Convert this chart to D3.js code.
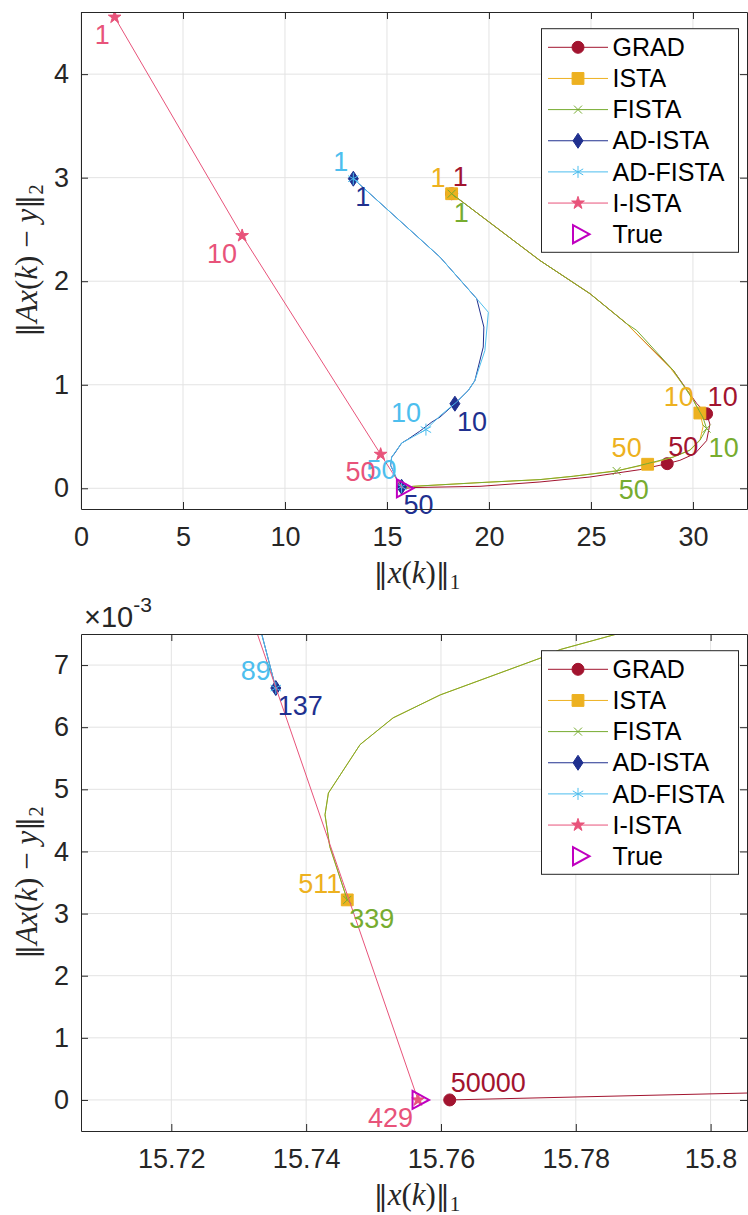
<!DOCTYPE html>
<html>
<head>
<meta charset="utf-8">
<script src="https://cdn.jsdelivr.net/npm/d3@7"></script>
<style>
body { margin: 0; background: #fff; }
svg text { font-family: "Liberation Sans", Arial, Helvetica, sans-serif; }
</style>
</head>
<body>
<svg id="chart" width="748" height="1215"></svg>
<script>
// legend order
var names = ["GRAD", "ISTA", "FISTA", "AD-ISTA", "AD-FISTA", "I-ISTA"];

// trajectories [ ||x(k)||_1 , ||Ax(k)-y||_2 ]
var gradPath = [[18.17,2.845],[22.5,2.2],[24.95,1.88],[26.75,1.59],[29.03,1.14],[30.18,0.82],[30.67,0.72],
  [30.83,0.62],[30.67,0.46],[30.1,0.335],[29.36,0.27],[28.74,0.238],[27.4,0.18],[24.95,0.109],[22.5,0.061],
  [19.56,0.019],[16.3,0.007],[15.9,0.00035],[15.7613,0]];
var istaPath = [[18.17,2.845],[22.5,2.2],[24.95,1.88],[26.7,1.6],[28.9,1.16],[29.9,0.9],[30.34,0.727],
  [30.5,0.6],[30.35,0.47],[29.85,0.37],[29.03,0.3],[27.78,0.232],[26.26,0.17],[24.13,0.116],[22.5,0.084],
  [19.56,0.055],[16.29,0.019],[15.95,0.0115],[15.8,0.0079],[15.7861,0.0075],[15.7777,0.00725],[15.7747,0.00711],
  [15.7599,0.00652],[15.7529,0.00615],[15.748,0.00572],[15.7433,0.00494],[15.7428,0.00459],[15.7435,0.00408],
  [15.7461,0.00322]];
var fistaPath = [[18.17,2.845],[22.5,2.2],[24.95,1.88],[26.75,1.59],[27.24,1.525],[29.03,1.14],[30.02,0.85],
  [30.5,0.68],[30.67,0.576],[30.34,0.463],[29.85,0.367],[29.03,0.302],[27.76,0.238],[26.26,0.167],[24.13,0.116],
  [22.5,0.084],[19.56,0.055],[16.29,0.019],[15.95,0.0115],[15.8,0.0079],[15.7861,0.0075],[15.7777,0.00725],
  [15.7747,0.00711],[15.7599,0.00652],[15.7529,0.00615],[15.748,0.00572],[15.7433,0.00494],[15.7428,0.00459],
  [15.7435,0.00408],[15.7461,0.00322]];
var adIstaPath = [[13.35,2.99],[17.6,2.233],[19.4,1.831],[19.75,1.557],[19.72,1.364],[19.31,1.04],[18.99,0.946],
  [18.33,0.817],[17.6,0.688],[17.2,0.64],[16.6,0.55],[16.0,0.47],[15.72,0.437],[15.35,0.33],[15.23,0.302],
  [15.18,0.222],[15.5,0.08],[15.715,0.015],[15.7298,0.009],[15.7355,0.00663]];
var adFistaPath = [[13.35,2.99],[17.6,2.233],[19.4,1.831],[19.97,1.7],[19.8,1.33],[19.31,1.04],[18.99,0.946],
  [18.4,0.83],[17.6,0.7],[16.91,0.567],[16.3,0.5],[15.72,0.437],[15.23,0.302],[15.18,0.222],[15.5,0.08],
  [15.715,0.015],[15.7298,0.009],[15.7355,0.00663]];
var iIstaPath = [[1.65,4.55],[7.9,2.44],[14.69,0.328],[15.7327,0.00752],[15.7566,0]];

// marked iterations [k, x, y]
var gradMarks = [[1,18.17,2.845],[10,30.67,0.72],[50,28.74,0.238],[50000,15.7613,0]];
var istaMarks = [[1,18.17,2.845],[10,30.34,0.727],[50,27.78,0.232],[511,15.7461,0.00322]];
var fistaMarks = [[1,18.17,2.845],[10,30.67,0.576],[50,26.26,0.167],[339,15.7461,0.00322]];
var adIstaMarks = [[1,13.35,2.99],[10,18.33,0.817],[50,15.715,0.015],[137,15.7355,0.00663]];
var adFistaMarks = [[1,13.35,2.99],[10,16.91,0.567],[50,15.715,0.015],[89,15.7355,0.00663]];
var iIstaMarks = [[1,1.65,4.55],[10,7.9,2.44],[50,14.69,0.328],[429,15.7566,0]];

var trueSol = [15.7566, 0];

// ticks
var topXTicks = [0, 5, 10, 15, 20, 25, 30];
var topYTicks = [0, 1, 2, 3, 4];
var botXTicks = [15.72, 15.74, 15.76, 15.78, 15.8];
var botXLabels = ["15.72", "15.74", "15.76", "15.78", "15.8"];
var botYTicks = [0, 0.001, 0.002, 0.003, 0.004, 0.005, 0.006, 0.007];
var botYLabels = ["0", "1", "2", "3", "4", "5", "6", "7"];

var paths = [gradPath, istaPath, fistaPath, adIstaPath, adFistaPath, iIstaPath];
var marks = [gradMarks, istaMarks, fistaMarks, adIstaMarks, adFistaMarks, iIstaMarks];

// look of each series, label offsets in px from the marker
var look = [
  {color: "#A2142F", marker: "circle",   anchor: "start", dx: 1,  dy: -8},
  {color: "#EDB120", marker: "square",   anchor: "end",   dx: -6, dy: -7},
  {color: "#77AC30", marker: "x",        anchor: "start", dx: 2,  dy: 28},
  {color: "#20308F", marker: "diamond",  anchor: "start", dx: 2,  dy: 27},
  {color: "#4DBEEE", marker: "asterisk", anchor: "end",   dx: -5, dy: -8},
  {color: "#E8537A", marker: "star",     anchor: "end",   dx: -5, dy: 27}
];
var trueColor = "#C000C0";

var svg = d3.select("#chart");
var left = 81, right = 747;
var axisColor = "#262626", gridColor = "#e3e3e3";

function markerPath(type) {
  if (type == "circle") return d3.symbol(d3.symbolCircle, 113)();
  if (type == "square") return d3.symbol(d3.symbolSquare, 140)();
  if (type == "star") return d3.symbol(d3.symbolStar, 50)();
  if (type == "diamond") return "M0,-7.5L5,0L0,7.5L-5,0Z";
  if (type == "x") return "M-4,-4L4,4M-4,4L4,-4";
  if (type == "asterisk") return "M0,-6L0,6M-5.2,-3L5.2,3M-5.2,3L5.2,-3";
  if (type == "tri") return "M-5.5,-9L11,0L-5.5,9Z";
}
function drawMarker(g, type, color, x, y) {
  var filled = (type == "circle" || type == "square" || type == "star" || type == "diamond");
  g.append("path")
    .attr("d", markerPath(type))
    .attr("transform", "translate(" + x + "," + y + ")")
    .attr("fill", filled ? color : "none")
    .attr("stroke", color)
    .attr("stroke-width", type == "tri" ? 2 : 1);
}

var panels = [
  {top: 12, bottom: 509, xDomain: [0, 32.65], yDomain: [-0.2, 4.6],
   xTicks: topXTicks, xLabels: topXTicks.map(String), yTicks: topYTicks, yLabels: topYTicks.map(String),
   show: function(m, i) { return m[0] <= 50; }, exp: false},
  {top: 634, bottom: 1131, xDomain: [15.7066, 15.8054], yDomain: [-0.0005, 0.0075],
   xTicks: botXTicks, xLabels: botXLabels, yTicks: botYTicks, yLabels: botYLabels,
   show: function(m, i, arr) { return i == arr.length - 1; }, exp: true}
];

panels.forEach(function(p, pi) {
  var x = d3.scaleLinear().domain(p.xDomain).range([left, right]);
  var y = d3.scaleLinear().domain(p.yDomain).range([p.bottom, p.top]);
  var g = svg.append("g");

  // grid
  g.selectAll(".gx").data(p.xTicks).enter().append("line")
    .attr("x1", d => x(d)).attr("x2", d => x(d)).attr("y1", p.top).attr("y2", p.bottom)
    .attr("stroke", gridColor);
  g.selectAll(".gy").data(p.yTicks).enter().append("line")
    .attr("y1", d => y(d)).attr("y2", d => y(d)).attr("x1", left).attr("x2", right)
    .attr("stroke", gridColor);

  var clipId = "clip" + pi;
  svg.append("clipPath").attr("id", clipId).append("rect")
    .attr("x", left).attr("y", p.top).attr("width", right - left).attr("height", p.bottom - p.top);
  var plot = g.append("g").attr("clip-path", "url(#" + clipId + ")");
  var line = d3.line().x(d => x(d[0])).y(d => y(d[1]));

  paths.forEach(function(path, si) {
    plot.append("path").attr("d", line(path)).attr("fill", "none")
      .attr("stroke", look[si].color).attr("stroke-width", 1);
    marks[si].filter(p.show).forEach(function(m) {
      drawMarker(plot, look[si].marker, look[si].color, x(m[1]), y(m[2]));
    });
  });
  drawMarker(plot, "tri", trueColor, x(trueSol[0]), y(trueSol[1]));

  // iteration labels
  marks.forEach(function(ms, si) {
    ms.filter(p.show).forEach(function(m) {
      g.append("text").attr("x", x(m[1]) + look[si].dx).attr("y", y(m[2]) + look[si].dy)
        .attr("text-anchor", look[si].anchor).attr("font-size", 27)
        .attr("fill", look[si].color).text(m[0]);
    });
  });

  // axes
  var ax = g.append("g").attr("transform", "translate(0," + p.bottom + ")")
    .call(d3.axisBottom(x).tickValues(p.xTicks).tickFormat((d, i) => p.xLabels[i])
      .tickSizeInner(-7).tickSizeOuter(0).tickPadding(18));
  var ay = g.append("g").attr("transform", "translate(" + left + ",0)")
    .call(d3.axisLeft(y).tickValues(p.yTicks).tickFormat((d, i) => p.yLabels[i])
      .tickSizeInner(-7).tickSizeOuter(0).tickPadding(12));
  var at = g.append("g").attr("transform", "translate(0," + p.top + ")")
    .call(d3.axisTop(x).tickValues(p.xTicks).tickFormat("").tickSizeInner(-7).tickSizeOuter(0));
  var ar = g.append("g").attr("transform", "translate(" + right + ",0)")
    .call(d3.axisRight(y).tickValues(p.yTicks).tickFormat("").tickSizeInner(-7).tickSizeOuter(0));
  [ax, ay, at, ar].forEach(function(a) {
    a.selectAll("path, line").attr("stroke", axisColor);
    a.selectAll("text").attr("fill", axisColor).attr("font-size", 27)
      .style("font-family", '"Liberation Sans", Arial, sans-serif');
  });

  // axis titles (LaTeX-like)
  var xl = g.append("text").attr("x", (left + right) / 2 + 3).attr("y", p.bottom + 74)
    .attr("text-anchor", "middle").attr("font-size", 31).attr("fill", axisColor)
    .style("font-family", '"Liberation Serif", "DejaVu Serif", serif');
  xl.append("tspan").style("font-family", '"DejaVu Serif", serif').attr("font-size", 28).text("\u2016");
  xl.append("tspan").attr("font-style", "italic").text("x");
  xl.append("tspan").text("(");
  xl.append("tspan").attr("font-style", "italic").text("k");
  xl.append("tspan").text(")");
  xl.append("tspan").style("font-family", '"DejaVu Serif", serif').attr("font-size", 28).text("\u2016");
  xl.append("tspan").attr("font-size", 21).attr("dy", 6).text("1");

  var yc = (p.top + p.bottom) / 2;
  var yl = g.append("text").attr("transform", "translate(37," + yc + ") rotate(-90)")
    .attr("text-anchor", "middle").attr("font-size", 31).attr("fill", axisColor)
    .style("font-family", '"Liberation Serif", "DejaVu Serif", serif');
  yl.append("tspan").style("font-family", '"DejaVu Serif", serif').attr("font-size", 28).text("\u2016");
  yl.append("tspan").attr("font-style", "italic").text("Ax");
  yl.append("tspan").text("(");
  yl.append("tspan").attr("font-style", "italic").text("k");
  yl.append("tspan").text(") \u2212 ");
  yl.append("tspan").attr("font-style", "italic").text("y");
  yl.append("tspan").style("font-family", '"DejaVu Serif", serif').attr("font-size", 28).text("\u2016");
  yl.append("tspan").attr("font-size", 21).attr("dy", 6).text("2");

  if (p.exp) {
    var ex = g.append("text").attr("x", 84).attr("y", p.top - 7).attr("font-size", 29).attr("fill", axisColor);
    ex.append("tspan").text("\u00d710");
    ex.append("tspan").attr("font-size", 21).attr("dy", -15).text("-3");
  }

  // legend
  var lx = 541.5, ly = p.top + 16.7, lw = 197, lh = 223.6, rowH = 31.15;
  var lg = g.append("g");
  lg.append("rect").attr("x", lx).attr("y", ly).attr("width", lw).attr("height", lh)
    .attr("fill", "#fff").attr("stroke", axisColor).attr("stroke-width", 1);
  names.forEach(function(n, i) {
    var cy = ly + 18.6 + i * rowH;
    lg.append("line").attr("x1", lx + 6.5).attr("x2", lx + 66.5).attr("y1", cy).attr("y2", cy)
      .attr("stroke", look[i].color).attr("stroke-width", 1);
    drawMarker(lg, look[i].marker, look[i].color, lx + 36.5, cy);
    lg.append("text").attr("x", lx + 71).attr("y", cy + 8.6).attr("font-size", 25).attr("fill", "#000").text(n);
  });
  var cyT = ly + 18.6 + 6 * rowH;
  drawMarker(lg, "tri", trueColor, lx + 37, cyT);
  lg.append("text").attr("x", lx + 71).attr("y", cyT + 8.6).attr("font-size", 25).attr("fill", "#000").text("True");
});
</script>
</body>
</html>
